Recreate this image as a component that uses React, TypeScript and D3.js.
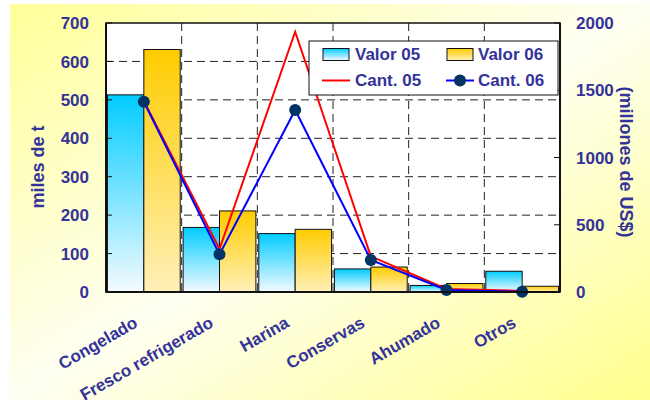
import React from "react";
import * as d3 from "d3";

const categories = ["Congelado", "Fresco refrigerado", "Harina", "Conservas", "Ahumado", "Otros"];
const valor05 = [513, 168, 152, 60, 17, 54];
const valor06 = [631, 211, 163, 65, 22, 15];
const cant05 = [1420, 320, 1935, 265, 22, 8];
const cant06 = [1415, 280, 1353, 238, 15, 2];
const leftTicks = [0, 100, 200, 300, 400, 500, 600, 700];
const rightTicks = [0, 500, 1000, 1500, 2000];
const seriesKeys = ["Valor 05", "Valor 06"];

const W = 650;
const H = 400;
const L = 106, R = 560, T = 23, B = 292;
const TXT = "#333399";
const FONT = "'Liberation Sans', Arial, sans-serif";

export default function App() {
  const x = d3.scaleBand<string>().domain(categories).range([L, R]).padding(0);
  const xs = d3.scaleBand<string>().domain(seriesKeys).range([0, x.bandwidth()]).paddingInner(0).paddingOuter(0.04);
  const yL = d3.scaleLinear().domain([0, 700]).range([B, T]);
  const yR = d3.scaleLinear().domain([0, 2000]).range([B, T]);
  const cx = (c: string) => (x(c) as number) + x.bandwidth() / 2;

  const line = d3.line<number>().x((_, i) => cx(categories[i])).y((d) => yR(d));

  const boundaries = categories.slice(1).map((c) => x(c) as number);

  return (
    <svg width={W} height={H} style={{ position: "absolute", left: 0, top: 0 }} fontFamily={FONT}>
      <defs>
        <linearGradient id="bg" x1="0" y1="0" x2="1" y2="1">
          <stop offset="0" stopColor="#ffff99" />
          <stop offset="0.5" stopColor="#fffff2" />
          <stop offset="1" stopColor="#ffff8c" />
        </linearGradient>
        <linearGradient id="cyan" x1="0" y1="0" x2="0" y2="1">
          <stop offset="0" stopColor="#00ccff" />
          <stop offset="1" stopColor="#f4fbff" />
        </linearGradient>
        <linearGradient id="gold" x1="0" y1="0" x2="0" y2="1">
          <stop offset="0" stopColor="#ffcc00" />
          <stop offset="1" stopColor="#fff0b8" />
        </linearGradient>
      </defs>
      <rect x={0} y={0} width={W} height={H} fill="#ffffff" />
      <rect x={10} y={4} width={W - 10} height={H - 4} fill="url(#bg)" />

      {/* plot area */}
      <rect x={L} y={T} width={R - L} height={B - T} fill="#ffffff" />

      {/* gridlines */}
      {leftTicks.filter((t) => t > 0 && t < 700).map((t) => (
        <line key={"h" + t} x1={L} x2={R} y1={yL(t)} y2={yL(t)} stroke="#222" strokeWidth={1} strokeDasharray="8,5" />
      ))}
      {boundaries.map((bx, i) => (
        <line key={"v" + i} x1={bx} x2={bx} y1={T} y2={B} stroke="#222" strokeWidth={1} strokeDasharray="8,5" />
      ))}

      {/* bars */}
      {categories.map((c, i) => (
        <g key={c}>
          <rect
            x={(x(c) as number) + (xs("Valor 05") as number)}
            y={yL(valor05[i])}
            width={xs.bandwidth()}
            height={B - yL(valor05[i])}
            fill="url(#cyan)"
            stroke="#111"
            strokeWidth={1}
          />
          <rect
            x={(x(c) as number) + (xs("Valor 06") as number)}
            y={yL(valor06[i])}
            width={xs.bandwidth()}
            height={B - yL(valor06[i])}
            fill="url(#gold)"
            stroke="#111"
            strokeWidth={1}
          />
        </g>
      ))}

      {/* lines */}
      <path d={line(cant05) as string} fill="none" stroke="#ff0000" strokeWidth={2} />
      <path d={line(cant06) as string} fill="none" stroke="#0000ff" strokeWidth={2} />
      {cant06.map((v, i) => (
        <circle key={i} cx={cx(categories[i])} cy={yR(v)} r={6} fill="#003366" />
      ))}

      {/* plot border */}
      <rect x={L} y={T} width={R - L} height={B - T} fill="none" stroke="#111" strokeWidth={1.5} />
      <line x1={L} x2={L} y1={T} y2={B} stroke="#111" strokeWidth={2} />
      <line x1={R} x2={R} y1={T} y2={B} stroke="#111" strokeWidth={2} />
      <line x1={L} x2={R} y1={B} y2={B} stroke="#111" strokeWidth={2} />

      {/* left ticks */}
      {leftTicks.map((t) => (
        <g key={"lt" + t}>
          <line x1={L} x2={L + 6} y1={yL(t)} y2={yL(t)} stroke="#111" strokeWidth={1} />
          <text x={89} y={yL(t)} dy="0.36em" textAnchor="end" fontSize={17} fontWeight="bold" fill={TXT}>
            {t}
          </text>
        </g>
      ))}
      {/* right ticks */}
      {rightTicks.map((t) => (
        <g key={"rt" + t}>
          <line x1={R - 6} x2={R} y1={yR(t)} y2={yR(t)} stroke="#111" strokeWidth={1} />
          <text x={576} y={yR(t)} dy="0.36em" textAnchor="start" fontSize={17} fontWeight="bold" fill={TXT}>
            {t}
          </text>
        </g>
      ))}

      {/* axis titles */}
      <text transform={`translate(44,167) rotate(-90)`} textAnchor="middle" fontSize={18} fontWeight="bold" fill={TXT}>
        miles de t
      </text>
      <text transform={`translate(620,162) rotate(90)`} textAnchor="middle" fontSize={18} fontWeight="bold" fill={TXT}>
        (millones de US$)
      </text>

      {/* category labels */}
      {categories.map((c) => (
        <text
          key={"cl" + c}
          transform={`translate(${cx(c) - 5},326) rotate(-30)`}
          textAnchor="end"
          fontSize={17}
          fontWeight="bold"
          fill={TXT}
        >
          {c}
        </text>
      ))}

      {/* legend */}
      <g>
        <rect x={309} y={41} width={249} height={54} fill="#ffffff" stroke="#111" strokeWidth={1} />
        <rect x={323} y={48.5} width={26} height={12} fill="url(#cyan)" stroke="#111" strokeWidth={1} />
        <text x={355} y={60} fontSize={17} fontWeight="bold" fill={TXT}>Valor 05</text>
        <rect x={447} y={48.5} width={26} height={12} fill="url(#gold)" stroke="#111" strokeWidth={1} />
        <text x={478} y={60} fontSize={17} fontWeight="bold" fill={TXT}>Valor 06</text>
        <line x1={322} x2={350} y1={80.5} y2={80.5} stroke="#ff0000" strokeWidth={2} />
        <text x={355} y={86} fontSize={17} fontWeight="bold" fill={TXT}>Cant. 05</text>
        <line x1={446} x2={474} y1={80.5} y2={80.5} stroke="#0000ff" strokeWidth={2} />
        <circle cx={460} cy={80.5} r={6} fill="#003366" />
        <text x={478} y={86} fontSize={17} fontWeight="bold" fill={TXT}>Cant. 06</text>
      </g>
    </svg>
  );
}
